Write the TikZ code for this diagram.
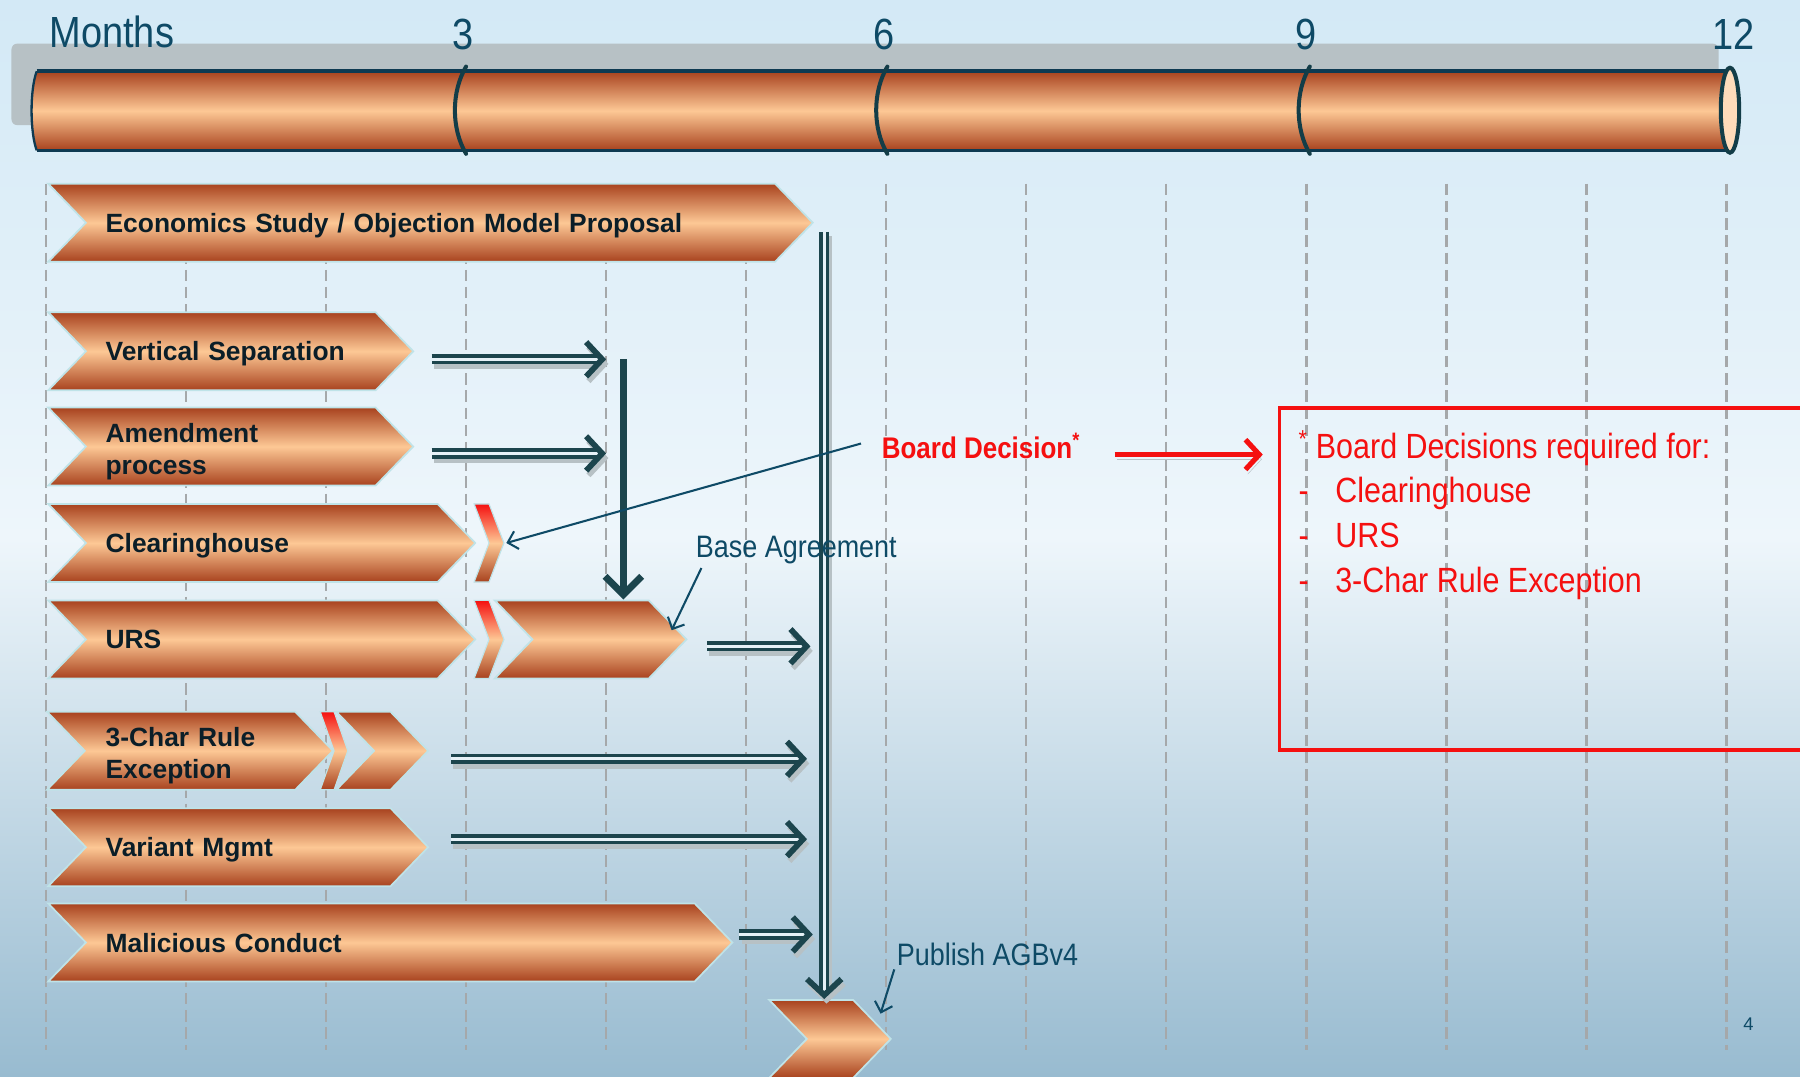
\documentclass[tikz,border=0pt]{standalone}
\usepackage{fontspec}
\setmainfont{Liberation Sans}
\newfontfamily\narrowfont[FakeStretch=0.87]{Liberation Sans}
\usepackage{tikz}
\usetikzlibrary{arrows.meta,positioning,shapes.symbols}

\definecolor{rust}{HTML}{A8421E}
\definecolor{peach}{HTML}{FDC895}
\definecolor{chevedge}{HTML}{BFE3E8}
\definecolor{labeltext}{HTML}{0B1E28}
\definecolor{navy}{HTML}{0E4A66}
\definecolor{arrowteal}{HTML}{1C454D}
\definecolor{divblue}{HTML}{133D48}
\definecolor{barline}{HTML}{0E3A52}
\definecolor{barshadow}{HTML}{B7C1C5}
\definecolor{gridgray}{HTML}{A5A8AA}
\definecolor{bgline}{HTML}{E6F1F7}
\definecolor{bgtop}{HTML}{D3E9F6}
\definecolor{bgmid}{HTML}{EEF6FB}
\definecolor{bgbot}{HTML}{98BBD0}
\definecolor{boardred}{HTML}{F51010}

\begin{document}
\begin{tikzpicture}[x=1pt, y=-1pt]
    % Define styles
    \tikzset{
        chev/.style={signal, signal from=west, signal to=east, signal pointer angle=92,
            draw=chevedge, line width=1.5pt, top color=rust, bottom color=rust, middle color=peach,
            minimum height=68pt, inner sep=0pt, align=left, text=labeltext, text depth=0pt,
            font=\bfseries\fontsize{23}{28}\selectfont},
        twoline/.style={text depth=24pt},
        sliver/.style={draw=chevedge, line width=1pt, top color=boardred, bottom color=rust, middle color=peach},
        gridline/.style={draw=gridgray, line width=2pt, dash pattern=on 10pt off 5pt},
        divider/.style={draw=divblue, line width=3.5pt, line cap=round},
        dblarrow/.style={draw=arrowteal, line width=3.2pt, double=bgline, double distance=2.6pt,
            preaction={draw=barshadow, double=barshadow, transform canvas={xshift=2pt, yshift=-4pt}},
            -{Straight Barb[length=14pt, width=30pt, line width=5pt]}},
        vdown/.style={draw=arrowteal, line width=6pt, -{Straight Barb[length=16pt, width=32pt, line width=6pt]}},
        pointer/.style={draw=navy, line width=1.8pt, -{Straight Barb[length=8pt, width=16pt, line width=1.8pt]}},
        redarrow/.style={draw=boardred, line width=4.5pt,
            preaction={draw=barshadow, transform canvas={xshift=2pt, yshift=-4pt}},
            -{Straight Barb[length=12pt, width=26pt, line width=4.5pt]}},
        navytext/.style={text=navy, font=\narrowfont\fontsize{38}{40}\selectfont, inner sep=0pt}
    }

    % Background
    \useasboundingbox (0,0) rectangle (1568,938);
    \shade[top color=bgtop, bottom color=bgbot, middle color=bgmid] (0,0) rectangle (1568,938);

    % Month grid
    \foreach \gx in {0,...,12}
        \draw[gridline] ({40+122*\gx},160) -- ({40+122*\gx},915);

    % Timeline bar
    \fill[barshadow, rounded corners=5pt] (10,38) rectangle (1497,109);
    \shade[top color=rust, bottom color=rust, middle color=peach]
        (32,62) -- (1506,62) -- (1506,131) -- (32,131) .. controls (26,115) and (26,78) .. (32,62) -- cycle;
    \draw[barline, line width=3pt] (32,62) -- (1506,62) (32,131) -- (1506,131);
    \draw[barline, line width=2pt] (32,131) .. controls (26,115) and (26,78) .. (32,62);
    \foreach \dx in {406,773,1141}
        \draw[divider] (\dx,58) .. controls ({\dx-13},80) and ({\dx-13},112) .. (\dx,134);
    \draw[divider, fill=peach!65!white] (1507,96) ellipse [x radius=8, y radius=37];

    \node[navytext, anchor=base west] (months) at (43,41) {Months};
    \node[navytext, anchor=base] (m3) at (403,43) {3};
    \node[navytext, anchor=base] (m6) at (770,43) {6};
    \node[navytext, anchor=base] (m9) at (1138,43) {9};
    \node[navytext, anchor=base] (m12) at (1510,43) {12};

    % Work streams
    \node[chev, minimum width=666pt, text width=566pt] (econ) at (375,194) {Economics Study / Objection Model Proposal};
    \node[chev, minimum width=318pt, text width=218pt] (vsep) at (201,306) {Vertical Separation};
    \node[chev, twoline, minimum width=318pt, text width=218pt] (amend) at (201,389) {Amendment\\process};
    \node[chev, minimum width=372pt, text width=272pt] (clear) at (228,473) {Clearinghouse};
    \node[chev, minimum width=372pt, text width=272pt] (urs) at (228,557) {URS};
    \node[chev, minimum width=167pt] (ursb) at (514.5,557) {};
    \node[chev, twoline, minimum width=249pt, text width=147pt] (rulec) at (165.5,654) {3-Char Rule\\Exception};
    \node[chev, minimum width=80pt] (rulecb) at (333,654) {};
    \node[chev, minimum width=331pt, text width=231pt] (variant) at (207.5,738) {Variant Mgmt};
    \node[chev, minimum width=596pt, text width=496pt] (malic) at (340,821) {Malicious Conduct};
    \node[chev, minimum width=106pt] (pub) at (723,905) {};

    % Board decision marks
    \shade[sliver] (413,439) -- (426,439) -- (439,473) -- (426,507) -- (413,507) -- (426,473) -- cycle;
    \shade[sliver] (413,523) -- (426,523) -- (439,557) -- (426,591) -- (413,591) -- (426,557) -- cycle;
    \shade[sliver] (279,620) -- (291,620) -- (303,654) -- (291,688) -- (279,688) -- (291,654) -- cycle;

    % Joins
    \coordinate (vtop) at (543,313);
    \coordinate (mtop) at (718,202);
    \coordinate (amj) at (528,395);
    \coordinate (ursj) at (706,563);
    \coordinate (rcj) at (703,661);
    \coordinate (vaj) at (703,731);
    \coordinate (maj) at (708,814);

    \draw[dblarrow] ([xshift=15pt,yshift=-7pt]vsep.east) -- ([xshift=-15pt]vtop);
    \draw[dblarrow] ([xshift=15pt,yshift=-6pt]amend.east) -- (amj);
    \draw[vdown] (vtop) -- (vtop |- ursb.north);
    \draw[dblarrow] ([xshift=17pt,yshift=-6pt]ursb.east) -- (ursj);
    \draw[dblarrow] ([xshift=19pt,yshift=-7pt]rulecb.east) -- (rcj);
    \draw[dblarrow] ([xshift=19pt,yshift=7pt]variant.east) -- (vaj);
    \draw[dblarrow] ([xshift=5pt,yshift=7pt]malic.east) -- (maj);
    \draw[dblarrow] (mtop) -- (mtop |- pub.north);

    % Notes
    \node[anchor=base west, text=boardred, inner sep=0pt, font=\narrowfont\bfseries\fontsize{26}{30}\selectfont] (bd) at (768,399) {Board Decision\textsuperscript{*}};
    \node[anchor=base west, text=navy, inner sep=0pt, font=\narrowfont\fontsize{27}{30}\selectfont] (ba) at (606,486) {Base Agreement};
    \node[anchor=base west, text=navy, inner sep=0pt, font=\narrowfont\fontsize{27}{30}\selectfont] (publ) at (781,841) {Publish AGBv4};
    \draw[pointer] ([xshift=-18pt,yshift=2pt]bd.west) -- ([xshift=26pt]clear.east);
    \draw[pointer] ([xshift=5pt,yshift=-3pt]ba.south west) -- ([xshift=-14pt,yshift=8pt]ursb.east);
    \draw[pointer] ([xshift=-2pt,yshift=-3pt]publ.south west) -- ([xshift=-10pt,yshift=22pt]pub.east);

    \node[draw=boardred, line width=3pt, minimum width=470pt, minimum height=298pt, anchor=north west] (reqbox) at (1113,354) {};
    \coordinate (redend) at (1100,396);
    \draw[redarrow] ([xshift=30pt]bd.east |- redend) -- (redend);
    \node[anchor=base west, align=left, text=boardred, inner sep=0pt, font=\narrowfont\fontsize{30.5}{39}\selectfont] (reqtext) at (1131,516)
        {\textsuperscript{*} Board Decisions required for:\\
         \makebox[32pt][l]{-}Clearinghouse\\
         \makebox[32pt][l]{-}URS\\
         \makebox[32pt][l]{-}3-Char Rule Exception};

    \node[text=navy, font=\fontsize{16}{18}\selectfont] (pageno) at (1523,892) {4};
\end{tikzpicture}
\end{document}
